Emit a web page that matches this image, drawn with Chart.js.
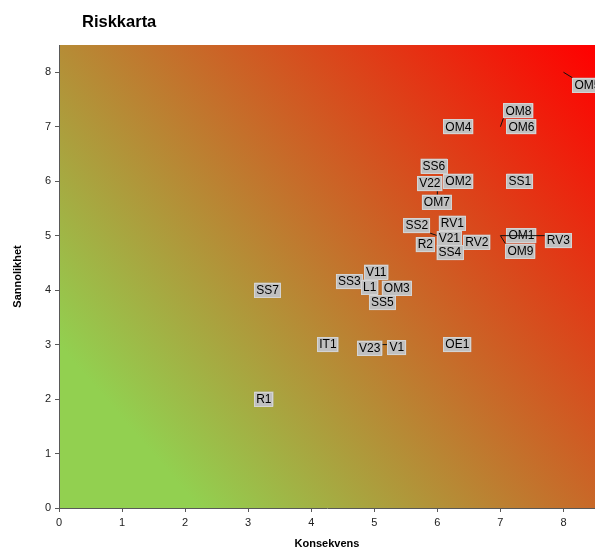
<!DOCTYPE html>
<html>
<head>
<meta charset="utf-8">
<title>Riskkarta</title>
<script src="https://cdn.jsdelivr.net/npm/chart.js@4.4.0/dist/chart.umd.min.js"></script>
<style>
  body { margin: 0; background: #fff; }
  #riskChart { display: block; }
</style>
</head>
<body>
<canvas id="riskChart" width="595" height="551"></canvas>
<script>
// risk items, in the order Excel draws them
const riskNames   = ['R1', 'SS7', 'IT1', 'V1', 'V23', 'SS3', 'V11', 'L1', 'OM3', 'SS5', 'OE1',
                     'SS2', 'RV1', 'V21', 'R2', 'SS4', 'RV2', 'OM7', 'SS6', 'V22', 'OM2', 'OM4',
                     'SS1', 'OM1', 'OM9', 'RV3', 'OM6', 'OM8', 'OM5'];
const consequence = [3, 3, 4, 5, 5, 5, 5, 5, 5, 5, 6,
                     6, 6, 6, 6, 6, 6, 6, 6, 6, 6, 6,
                     7, 7, 7, 7, 7, 7, 8];
const probability = [2, 4, 3, 3, 3, 4, 4, 4, 4, 4, 3,
                     5, 5, 5, 5, 5, 5, 6, 6, 6, 6, 7,
                     6, 5, 5, 5, 7, 7, 8];
const xTickValues = [0, 1, 2, 3, 4, 5, 6, 7, 8];
const yTickValues = [0, 1, 2, 3, 4, 5, 6, 7, 8];

// labels that were dragged off their default spot (centre offset in px)
const labelShift = {
  V23: [-4.5, 3.5], V1: [22.5, 3],
  SS3: [-25, -8.5], V11: [2, -18], L1: [-4.5, -3], OM3: [22.5, -2], SS5: [8, 12.5],
  SS2: [-20.6, -10], RV1: [15, -12.5], V21: [12, 3], R2: [-12, 9], SS4: [12.5, 17], RV2: [39.5, 6.5],
  SS6: [-3.5, -15], V22: [-7.5, 2.5], OM7: [-0.5, 21],
  OM9: [20, 15.5], RV3: [58, 5],
  OM8: [18, -16], OM5: [24, 13]
};
const leaderLines = ['V1', 'SS2', 'OM7', 'OM9', 'RV3', 'OM8', 'OM5'];

Chart.defaults.font.family = '"Liberation Sans", Arial, sans-serif';

const heatBackground = {
  id: 'heatBackground',
  beforeDraw(chart) {
    const { ctx, chartArea: a } = chart;
    const g = ctx.createLinearGradient(a.left, a.bottom, a.right, a.top);
    g.addColorStop(0, '#92d050');
    g.addColorStop(0.15, '#92d050');
    g.addColorStop(1, '#ff0000');
    ctx.save();
    ctx.fillStyle = g;
    ctx.fillRect(a.left, a.top, a.right - a.left, a.bottom - a.top);
    ctx.restore();
  }
};

const riskLabels = {
  id: 'riskLabels',
  afterDatasetsDraw(chart) {
    const ctx = chart.ctx;
    const points = chart.getDatasetMeta(0).data;
    ctx.save();
    ctx.font = '12px "Liberation Sans", Arial, sans-serif';
    ctx.textAlign = 'center';
    ctx.textBaseline = 'middle';
    points.forEach((pt, i) => {
      const name = riskNames[i];
      const w = ctx.measureText(name).width + 4;
      const h = 15;
      const shift = labelShift[name] || [6 + w / 2, 0];
      const cx = pt.x + shift[0];
      const cy = pt.y + shift[1];
      const left = cx - w / 2;
      const top = cy - h / 2;

      if (leaderLines.includes(name)) {
        const nx = Math.max(left, Math.min(pt.x, left + w));
        const ny = Math.max(top, Math.min(pt.y, top + h));
        ctx.strokeStyle = '#111';
        ctx.lineWidth = 1;
        ctx.beginPath();
        ctx.moveTo(pt.x, pt.y);
        ctx.lineTo(nx, ny);
        ctx.stroke();
      }

      ctx.fillStyle = '#c0c0c0';
      ctx.fillRect(left, top, w, h);
      ctx.strokeStyle = '#d4d4d4';
      ctx.lineWidth = 1;
      ctx.strokeRect(Math.round(left) + 0.5, Math.round(top) + 0.5, Math.round(w) - 1, h - 1);
      ctx.fillStyle = '#000';
      ctx.fillText(name, cx, cy + 0.5);
    });
    ctx.restore();
  }
};

const chartTitle = {
  id: 'chartTitle',
  afterDraw(chart) {
    const ctx = chart.ctx;
    ctx.save();
    ctx.font = 'bold 16.5px "Liberation Sans", Arial, sans-serif';
    ctx.fillStyle = '#000';
    ctx.textAlign = 'left';
    ctx.textBaseline = 'alphabetic';
    ctx.fillText('Riskkarta', 82, 27);
    ctx.restore();
  }
};

const axisCommon = {
  type: 'linear',
  min: 0,
  max: 8.5,
  grid: { drawOnChartArea: false, drawTicks: true, tickLength: 4, tickColor: '#595959' },
  border: { display: true, color: '#595959', width: 1 },
  ticks: { color: '#222', font: { size: 11 }, padding: 4 }
};

new Chart(document.getElementById('riskChart'), {
  type: 'scatter',
  data: {
    datasets: [{
      data: consequence.map((x, i) => ({ x: x, y: probability[i] })),
      pointRadius: 0,
      pointHoverRadius: 0,
      showLine: false
    }]
  },
  options: {
    responsive: false,
    animation: false,
    layout: { padding: { top: 45, right: 0, left: 0, bottom: 0 } },
    plugins: { legend: { display: false }, tooltip: { enabled: false } },
    scales: {
      x: {
        ...axisCommon,
        afterBuildTicks: s => { s.ticks = xTickValues.map(v => ({ value: v })); },
        afterFit: s => { s.height = 43; },
        title: { display: true, text: 'Konsekvens', color: '#000', font: { size: 11, weight: 'bold' }, padding: { top: 0, bottom: 0 } }
      },
      y: {
        ...axisCommon,
        afterBuildTicks: s => { s.ticks = yTickValues.map(v => ({ value: v })); },
        afterFit: s => { s.width = 59; },
        title: { display: true, text: 'Sannolikhet', color: '#000', font: { size: 11, weight: 'bold' }, padding: { top: 11, bottom: 0 } }
      }
    }
  },
  plugins: [heatBackground, riskLabels, chartTitle]
});
</script>
</body>
</html>
